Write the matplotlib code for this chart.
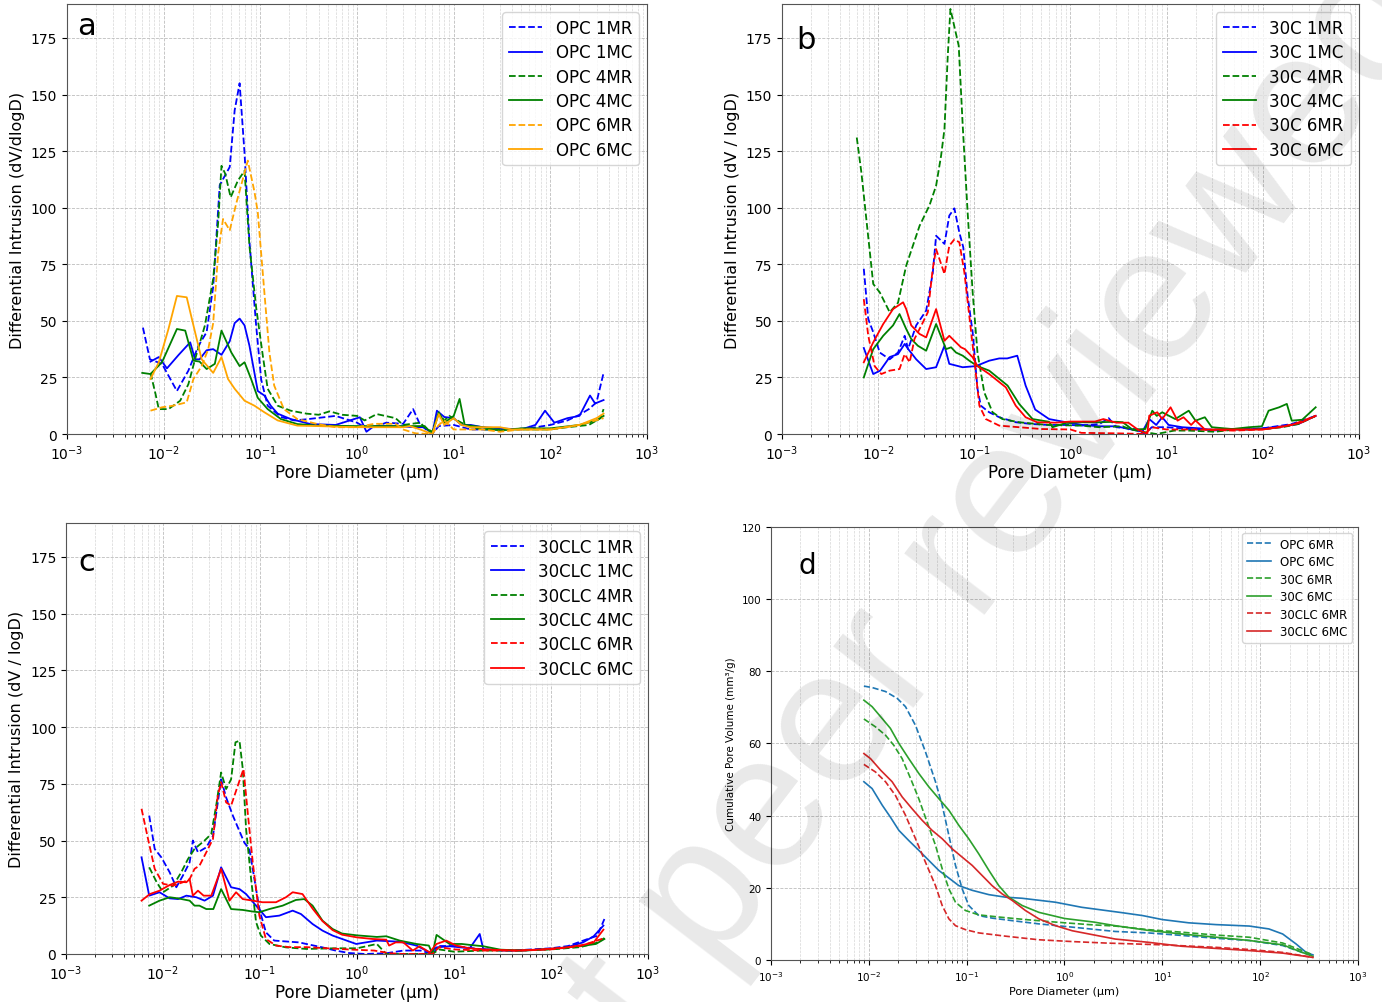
import matplotlib
matplotlib.use("Agg")
import matplotlib.pyplot as plt

# ---------------- panel a : OPC mixes (differential intrusion) ----------------
opc_1mr_d = [0.0061, 0.0072, 0.0096, 0.0137, 0.018, 0.0229, 0.0278, 0.0325, 0.038, 0.0482, 0.0542, 0.061, 0.0686,
             0.0771, 0.0904, 0.102, 0.119, 0.163, 0.223, 0.3, 0.6, 1.0, 1.2, 1.5, 2.0, 3.0, 3.8, 4.5, 6.0, 7.0, 10,
             15, 30, 60, 100, 150, 200, 250, 300, 355]
opc_1mr_v = [47, 33, 31, 19, 28, 39, 45, 65, 110, 118, 143, 155, 124, 85, 48, 24, 12.5, 7.5, 6, 6.5, 8, 5, 3, 3, 5,
             4.5, 11, 4, 0, 3.5, 4, 2, 2, 2.5, 4, 6, 8.5, 11, 14, 27]

opc_1mc_d = [0.0073, 0.0089, 0.0108, 0.0143, 0.0188, 0.0211, 0.0235, 0.0278, 0.0325, 0.0396, 0.0482, 0.0542, 0.061,
             0.0686, 0.0771, 0.094, 0.11, 0.128, 0.151, 0.206, 0.33, 0.6, 1.07, 1.25, 1.5, 2.5, 4.0, 5.0, 6.0, 6.7,
             8.0, 10, 12, 15, 20, 30, 50, 70, 88, 110, 150, 200, 257, 290, 355]
opc_1mc_v = [32, 34, 29, 35, 40.5, 33, 33, 37, 37.5, 35, 41, 49, 51, 48, 39, 19, 17, 12.5, 9, 6.6, 4.4, 4, 7.4, 1,
             3.5, 3.5, 3, 3, 0, 10.3, 7.5, 7, 4, 4, 3, 2.5, 2, 4, 10.3, 5, 7, 8, 17, 13.5, 15]

opc_4mr_d = [0.0073, 0.0082, 0.0089, 0.0112, 0.0148, 0.018, 0.0211, 0.0267, 0.0325, 0.0366, 0.0396, 0.0433, 0.0493,
             0.0586, 0.0686, 0.0771, 0.0904, 0.106, 0.119, 0.151, 0.206, 0.3, 0.4, 0.52, 0.7, 1.0, 1.2, 1.6, 2.5,
             3.0, 4.5, 5.0, 6.0, 7.0, 8.0, 9.0, 12, 15, 20, 40, 100, 150, 250, 330, 355]
opc_4mr_v = [27, 18, 11, 11, 14.7, 22, 33, 48, 68.5, 93.5, 118.5, 115, 104.6, 112, 116.3, 83, 56, 34.6, 20, 12.5,
             10.3, 9, 8.5, 10, 8.5, 8, 6, 8.8, 7, 4, 5, 3, 1, 9, 6, 8, 5, 3, 2, 2, 2, 3, 4, 7, 11]

opc_4mc_d = [0.006, 0.0073, 0.0096, 0.0137, 0.0167, 0.0203, 0.0235, 0.0278, 0.0338, 0.0396, 0.0501, 0.061, 0.0686,
             0.0802, 0.094, 0.119, 0.163, 0.241, 0.39, 1.0, 3.0, 5.0, 6.0, 7.0, 8.0, 10, 11.5, 13, 20, 30, 50, 100,
             200, 300, 355]
opc_4mc_v = [27, 26.5, 31.7, 46.4, 45.7, 32.4, 32, 28.7, 31, 45.7, 36, 30, 31.7, 24.3, 16, 11, 6.6, 4.4, 3.7, 3.5,
             3.5, 3.5, 0, 9.6, 5, 8, 15.5, 4, 3, 1.5, 2.5, 2.5, 4, 6, 8]

opc_6mr_d = [0.0073, 0.0096, 0.0125, 0.0173, 0.0203, 0.0247, 0.0289, 0.0325, 0.0366, 0.0411, 0.0482, 0.0564, 0.0659,
             0.0741, 0.0869, 0.094, 0.11, 0.124, 0.139, 0.175, 0.241, 0.39, 0.6, 1.0, 1.5, 2.5, 3.0, 4.0, 6.0, 7.0,
             8.0, 10, 20, 30, 50, 100, 200, 355]
opc_6mr_v = [10.3, 11.8, 12.5, 14, 24.3, 30, 37.5, 49, 80, 95, 90, 102, 112.7, 120.8, 107, 98, 62.6, 36, 21.4, 11,
             6.6, 4.4, 3, 3, 4.5, 4.5, 2, 0.3, 0, 4, 6, 2, 2, 1, 2, 2, 4, 7]

opc_6mc_d = [0.0073, 0.0089, 0.0112, 0.0137, 0.0173, 0.0203, 0.0247, 0.0325, 0.0396, 0.0463, 0.0542, 0.0686, 0.0869,
             0.11, 0.151, 0.241, 0.39, 1.0, 3.0, 3.5, 4.5, 6.0, 7.0, 8.0, 10, 12, 15, 30, 40, 100, 200, 300, 355]
opc_6mc_v = [24.3, 31.7, 46.4, 61, 60.4, 48, 33, 27, 34, 24.3, 20, 14.7, 12.5, 9.6, 6, 3.7, 3.5, 3, 3, 3.5, 2, 0,
             8.8, 4, 7, 4, 3, 3, 2, 2, 4, 7, 9]

# ---------------- panel b : 30C mixes ----------------
c30_1mr_d = [0.0071, 0.0079, 0.0089, 0.0104, 0.0132, 0.0161, 0.0189, 0.0205, 0.0249, 0.0316, 0.037, 0.0401, 0.049,
             0.055, 0.0621, 0.07, 0.0769, 0.0853, 0.0962, 0.108, 0.117, 0.143, 0.182, 0.27, 0.4, 0.6, 1.0, 1.3, 2.0,
             2.5, 3.0, 5.0, 6.0, 7.0, 10, 20, 50, 100, 200, 355]
c30_1mr_v = [73, 50.8, 45, 36, 33, 36, 43.4, 37.5, 48, 54.5, 71, 87.6, 84, 96.5, 99.7, 89, 82.5, 61, 45, 20, 12.5,
             9.6, 7.4, 5.2, 4.4, 4, 4, 3.7, 4.4, 7, 3, 2, 0, 3, 3, 2, 2, 2.5, 4.4, 8]

c30_1mc_d = [0.0071, 0.0089, 0.0105, 0.0132, 0.0161, 0.0189, 0.0205, 0.0249, 0.0316, 0.0401, 0.049, 0.055, 0.0757,
             0.104, 0.143, 0.182, 0.22, 0.28, 0.342, 0.43, 0.6, 0.9, 1.33, 2.0, 3.0, 4.1, 5.6, 6.6, 7.8, 9.0, 10.5,
             14.5, 22, 30, 48, 70, 100, 160, 234, 355]
c30_1mc_v = [38, 26.5, 28, 34, 35.3, 39.8, 37.6, 33, 28.7, 29.5, 39, 31, 29.5, 30, 32.4, 33.4, 33.4, 34.6, 21.4,
             10.8, 6.6, 5.2, 4, 3.4, 3.4, 2.2, 1, 6.6, 4, 7.4, 4, 3, 2.5, 1.5, 2.2, 2, 2.5, 3.4, 4.4, 8]

c30_4mr_d = [0.006, 0.0067, 0.0075, 0.0089, 0.0104, 0.0132, 0.0161, 0.0196, 0.027, 0.0342, 0.0401, 0.0452, 0.049,
             0.053, 0.0565, 0.0621, 0.0689, 0.0759, 0.0853, 0.0962, 0.108, 0.127, 0.155, 0.196, 0.292, 0.45, 0.6,
             1.3, 2.0, 3.5, 4.1, 5.6, 7.8, 12, 17, 32, 52, 72, 107, 160, 234, 355]
c30_4mr_v = [131, 115.6, 96, 66.3, 62.6, 53.8, 58, 74.4, 92, 101, 109.7, 123, 134.8, 167, 187.8, 180, 171.6, 136,
             98, 62.6, 36, 18.4, 9.6, 6.6, 5.2, 4.4, 4, 3.7, 3, 3.4, 2.2, 1, 0, 1.5, 1.5, 1, 2, 2, 2.2, 3, 4.4, 8]

c30_4mc_d = [0.0071, 0.0089, 0.0113, 0.0143, 0.0167, 0.0196, 0.0221, 0.0259, 0.0316, 0.0401, 0.0509, 0.0574, 0.0646,
             0.0759, 0.0887, 0.108, 0.143, 0.222, 0.293, 0.404, 0.6, 0.65, 0.9, 1.3, 2.0, 3.0, 3.5, 4.4, 6.0, 7.1,
             7.9, 9.0, 12.3, 17, 20, 25, 29.5, 48, 72, 98, 115, 148, 178, 200, 257, 355]
c30_4mc_v = [25, 37.5, 43.4, 48, 53, 46.4, 42, 39, 36.8, 48.6, 37.5, 38.3, 36, 34.6, 32.4, 30, 28, 21.4, 13.3, 6.6,
             5.4, 3, 4.9, 5.2, 5.2, 5.4, 5.2, 2, 2.2, 10.3, 8, 9.6, 6.6, 10.3, 5.9, 7.4, 3, 2.2, 3, 3.4, 10.3, 11.8,
             13.3, 5.9, 6.3, 11.8]

c30_6mr_d = [0.0071, 0.0079, 0.0092, 0.0108, 0.0132, 0.0167, 0.0189, 0.0213, 0.0239, 0.0292, 0.0329, 0.037, 0.0401,
             0.049, 0.055, 0.0621, 0.07, 0.0789, 0.0887, 0.1, 0.113, 0.132, 0.182, 0.292, 0.5, 1.0, 1.3, 3.0, 6.0,
             7.0, 10, 20, 50, 100, 200, 355]
c30_6mr_v = [59.6, 43.4, 30, 26.5, 28, 28.7, 35.3, 31.7, 42, 49.3, 53.8, 73, 81.7, 70.7, 83.2, 86, 84.7, 71.4, 52.3,
             33, 12.5, 6.6, 3.7, 3, 2.2, 2, 0.5, 0.3, 0, 3, 2, 2, 1.5, 2, 4, 8]

c30_6mc_d = [0.0071, 0.0089, 0.0113, 0.0143, 0.0182, 0.0196, 0.0221, 0.027, 0.0316, 0.0401, 0.049, 0.055, 0.062,
             0.0728, 0.08, 0.0962, 0.108, 0.143, 0.213, 0.27, 0.342, 0.45, 0.7, 1.0, 1.8, 2.2, 3.0, 4.0, 5.0, 6.3,
             6.6, 8.0, 9.0, 11, 13, 15, 18, 20, 25, 40, 100, 150, 250, 355]
c30_6mc_v = [31.7, 40.5, 48.6, 55.2, 58.2, 55.2, 48, 44.2, 42.7, 55.2, 41.2, 43.4, 41.2, 38.3, 37.5, 33.9, 30, 26.5,
             20.6, 12.5, 7.4, 5.2, 5, 5.5, 5.5, 6.6, 5, 5, 2, 0, 8.1, 9.6, 6.6, 11.8, 5.9, 7.4, 4, 6, 2, 2, 2, 3, 5, 8]

# ---------------- panel c : 30CLC mixes ----------------
clc_1mr_d = [0.0072, 0.0082, 0.0096, 0.0117, 0.0137, 0.016, 0.0188, 0.0203, 0.0229, 0.0279, 0.0327, 0.0397, 0.0447,
             0.0524, 0.069, 0.0776, 0.0875, 0.0984, 0.115, 0.14, 0.2, 0.253, 0.3, 0.44, 0.6, 0.83, 1.2, 2.0, 3.0,
             4.5, 6.0, 7.0, 10, 20, 40, 100, 150, 250, 300, 355]
clc_1mr_v = [61, 46.3, 42.6, 36, 29.4, 34.5, 40.4, 50, 44.8, 47, 52, 77, 69, 61, 49, 46.3, 33, 19.8, 9.5, 5.9, 5.4,
             5.1, 4.4, 2.9, 1.5, 0.4, 0, 0.3, 1.5, 1.5, 0, 3.5, 3.5, 2, 1.5, 2.5, 3.5, 6.9, 8, 15.4]

clc_1mc_d = [0.006, 0.0072, 0.0092, 0.0117, 0.0143, 0.0174, 0.022, 0.0268, 0.0327, 0.0397, 0.0503, 0.0614, 0.0718,
             0.091, 0.115, 0.158, 0.217, 0.264, 0.348, 0.44, 0.56, 0.98, 1.6, 2.75, 4.1, 5.6, 6.6, 9.0, 14.5, 18.4,
             20, 30, 50, 98, 145, 214, 275, 347]
clc_1mc_v = [42.6, 25.7, 27.2, 24.5, 24.2, 25.7, 25, 23.5, 25.7, 38.2, 29.4, 28.6, 26.4, 21.3, 16.2, 16.9, 19.1,
             17.6, 13.2, 10.3, 8.1, 4.4, 5.9, 5.4, 3.7, 0.7, 2.9, 3.4, 2.5, 8.8, 2.2, 1.5, 1.5, 2.2, 2.9, 5.1, 7.8,
             12.5]

clc_4mr_d = [0.0072, 0.0086, 0.01, 0.0127, 0.0154, 0.0181, 0.0211, 0.0268, 0.0314, 0.0353, 0.0397, 0.0447, 0.0503,
             0.0558, 0.0614, 0.0664, 0.0718, 0.0809, 0.091, 0.102, 0.125, 0.185, 0.3, 0.6, 1.0, 1.6, 2.0, 3.0, 6.0,
             7.0, 10, 20, 50, 100, 200, 300, 355]
clc_4mr_v = [38.2, 31.6, 27.2, 30.1, 36, 41.9, 46.3, 50, 52.9, 65.4, 80, 72.7, 77, 93.3, 94, 81.5, 55, 33, 14, 8.1,
             4.4, 2.9, 2.2, 2.5, 2.5, 4.4, 0, 0, 0, 2, 1, 1.5, 1.5, 2, 3, 5, 7]

clc_4mc_d = [0.0072, 0.0092, 0.0117, 0.0143, 0.0188, 0.0211, 0.0237, 0.0279, 0.033, 0.0397, 0.0503, 0.0664, 0.0841,
             0.0984, 0.125, 0.171, 0.234, 0.286, 0.348, 0.44, 0.56, 0.7, 1.0, 1.6, 2.0, 2.75, 4.1, 5.5, 6.0, 6.6,
             9.0, 12, 14.5, 20, 30, 50, 100, 200, 290, 355]
clc_4mc_v = [21.3, 23.5, 25, 24.5, 23.5, 21.3, 21.3, 19.8, 19.8, 28.6, 19.8, 19.4, 18.7, 18.4, 19.8, 21.3, 23.8,
             24.2, 21.3, 14.7, 11, 9, 8.2, 7.5, 7.8, 5.9, 4.4, 3.7, 0, 8.4, 4.4, 4.4, 4, 3.4, 1.9, 1.5, 2.2, 3.4,
             4.4, 6.6]

clc_6mr_d = [0.006, 0.007, 0.0082, 0.01, 0.0127, 0.016, 0.0188, 0.0211, 0.0238, 0.0279, 0.0327, 0.0367, 0.0397,
             0.0447, 0.0503, 0.059, 0.0675, 0.0746, 0.0841, 0.0984, 0.115, 0.146, 0.2, 0.3, 0.5, 0.8, 1.5, 2.2, 3.0,
             6.0, 7.0, 10, 20, 50, 100, 200, 355]
clc_6mr_v = [64, 50.7, 37.5, 30.9, 30.1, 31.6, 33, 37.5, 39, 44.8, 50.7, 69.8, 75.7, 66.8, 65.4, 74.2, 81.5, 62.4,
             40.4, 16.9, 6.6, 3.7, 3, 3, 2.5, 2, 1.5, 0.3, 0, 0, 3, 2, 1.5, 1.5, 2, 3.5, 7]

clc_6mc_d = [0.006, 0.0073, 0.0092, 0.0117, 0.0143, 0.0174, 0.0188, 0.0203, 0.0229, 0.0262, 0.0314, 0.0397, 0.0484,
             0.0566, 0.0664, 0.0841, 0.106, 0.146, 0.185, 0.217, 0.274, 0.348, 0.44, 0.56, 0.7, 1.0, 1.45, 2.0, 2.14,
             2.5, 3.0, 3.76, 4.4, 5.6, 6.6, 8.3, 10.5, 14.5, 20, 44, 80, 145, 214, 275, 347]
clc_6mc_v = [23.5, 26.4, 27.9, 30.4, 31.9, 31.6, 33, 25.7, 27.9, 25.7, 25.7, 37.5, 23.5, 27.2, 24.2, 23.5, 22.8,
             22.8, 25, 27.2, 26.4, 20, 14.5, 10.5, 8.5, 7.3, 6.6, 6.3, 3.7, 5.1, 5.1, 1.5, 3.4, 0.7, 4.4, 5.9, 3.7,
             2.5, 2, 1.5, 2, 2.9, 4, 5.1, 10.7]

# ---------------- panel d : cumulative pore volume ----------------
cum_opc_mr_d = [0.0089, 0.0108, 0.0148, 0.0195, 0.0237, 0.03, 0.0379, 0.048, 0.0562, 0.0658, 0.0769, 0.09, 0.105,
                0.133, 0.182, 0.292, 0.547, 1.2, 3.3, 7.2, 15.8, 35.5, 77.6, 170, 269, 347]
cum_opc_mr_v = [75.9, 75.5, 74.4, 72.5, 70.2, 65, 57.7, 49.4, 42.9, 34.5, 26.2, 19.7, 15.1, 12.3, 11.6, 10.9, 10,
                9.1, 7.9, 7.5, 6.8, 6, 5.4, 4, 2.1, 1.2]

cum_opc_mc_d = [0.0089, 0.0108, 0.0137, 0.0166, 0.0203, 0.0256, 0.0324, 0.041, 0.052, 0.0658, 0.0832, 0.114, 0.169,
                0.25, 0.369, 0.81, 1.5, 3.9, 6.3, 10, 18.6, 35.5, 77.6, 123, 170, 234, 295, 347]
cum_opc_mc_v = [49.4, 47.5, 42.9, 39.6, 35.9, 33.1, 30.4, 27.6, 24.8, 22.7, 20.6, 19.3, 18.1, 17.4, 17.1, 16, 14.6,
                13.1, 12.3, 11.2, 10.3, 9.8, 9.4, 8.6, 7.2, 4.4, 2.1, 1.4]

cum_30c_mr_d = [0.0089, 0.0117, 0.0148, 0.018, 0.0219, 0.0267, 0.0324, 0.0394, 0.048, 0.0562, 0.0658, 0.0769,
                0.0973, 0.133, 0.213, 0.398, 0.81, 1.77, 3.3, 7.2, 15.8, 35.5, 77.6, 170, 269, 347]
cum_30c_mr_v = [66.8, 64.6, 62.3, 59.5, 55.8, 50.3, 44.7, 38.2, 31.8, 25.3, 19.7, 16, 13.7, 12.5, 11.9, 11.2, 10.5,
                9.8, 9.4, 8.4, 7.7, 6.9, 6.3, 4.7, 2.6, 1.4]

cum_30c_mc_d = [0.0089, 0.0108, 0.0137, 0.0166, 0.0203, 0.0256, 0.0324, 0.041, 0.052, 0.0658, 0.0832, 0.105, 0.133,
                0.169, 0.213, 0.27, 0.369, 0.547, 1.0, 2.0, 3.3, 7.2, 15.8, 35.5, 77.6, 170, 269, 347]
cum_30c_mc_v = [72, 70.2, 66.9, 64.2, 60, 55.8, 51.7, 48, 44.7, 41.5, 37.3, 33.6, 29.4, 24.8, 20.6, 17.4, 15.1,
                13.2, 11.5, 10.5, 9.5, 8.2, 7.2, 6.3, 5.4, 4.2, 2.1, 1]

cum_clc_mr_d = [0.0089, 0.0117, 0.0148, 0.0187, 0.0237, 0.03, 0.0379, 0.048, 0.0562, 0.0658, 0.0769, 0.0973, 0.133,
                0.249, 0.547, 1.2, 2.6, 10, 35.5, 77.6, 170, 347]
cum_clc_mr_v = [54.2, 52.1, 49.4, 45.6, 40.1, 33.6, 27.1, 20.6, 15.1, 11.4, 9.5, 8.4, 7.5, 6.6, 5.6, 5.1, 4.7, 4.2,
                3.5, 2.9, 2.1, 0.7]

cum_clc_mc_d = [0.0089, 0.0104, 0.0132, 0.0173, 0.0219, 0.0277, 0.0351, 0.0444, 0.0562, 0.0711, 0.09, 0.114, 0.144,
                0.182, 0.231, 0.292, 0.399, 0.547, 0.81, 1.2, 3.3, 7.2, 15.8, 35.5, 77.6, 170, 347]
cum_clc_mc_v = [57.2, 55.8, 52.6, 49.4, 45.2, 41.9, 38.7, 35.9, 33.6, 30.8, 28.5, 26.2, 23.4, 20.6, 18.3, 16.5,
                13.7, 11.4, 9.5, 8.1, 5.8, 4.9, 3.8, 3.2, 2.6, 1.9, 0.7]


def style_axes(ax, ylim, yticks, tick_size, letter, letter_xy, letter_size):
    # log x axis from 1e-3 to 1e3 with dashed major + minor grid
    ax.set_xscale('log')
    ax.set_xlim(1e-3, 1e3)
    ax.set_ylim(*ylim)
    ax.set_yticks(yticks)
    ax.grid(True, which='major', ls='--', lw=0.6, color='#bdbdbd')
    ax.grid(True, which='minor', ls='--', lw=0.5, color='#d6d6d6')
    ax.set_axisbelow(True)
    ax.tick_params(labelsize=tick_size)
    for s in ax.spines.values():
        s.set_color('#555555')
    ax.text(letter_xy[0], letter_xy[1], letter, transform=ax.transAxes,
            fontsize=letter_size, ha='center', va='center')


fig = plt.figure(figsize=(13.82, 10.03), dpi=100)
ax_a = fig.add_axes([0.0485, 0.5663, 0.4197, 0.4287])
ax_b = fig.add_axes([0.5658, 0.5663, 0.4175, 0.4287])
ax_c = fig.add_axes([0.0478, 0.0479, 0.4211, 0.4297])
ax_d = fig.add_axes([0.5579, 0.0419, 0.4247, 0.4317])

lw = 1.3

# panel a
ax_a.plot(opc_1mr_d, opc_1mr_v, '--', color='blue', lw=lw, label='OPC 1MR')
ax_a.plot(opc_1mc_d, opc_1mc_v, '-', color='blue', lw=lw, label='OPC 1MC')
ax_a.plot(opc_4mr_d, opc_4mr_v, '--', color='green', lw=lw, label='OPC 4MR')
ax_a.plot(opc_4mc_d, opc_4mc_v, '-', color='green', lw=lw, label='OPC 4MC')
ax_a.plot(opc_6mr_d, opc_6mr_v, '--', color='orange', lw=lw, label='OPC 6MR')
ax_a.plot(opc_6mc_d, opc_6mc_v, '-', color='orange', lw=lw, label='OPC 6MC')
style_axes(ax_a, (0, 190), range(0, 176, 25), 10, 'a', (0.033, 0.949), 22)
ax_a.set_xlabel('Pore Diameter (µm)', fontsize=12, labelpad=0.5)
ax_a.set_ylabel('Differential Intrusion (dV/dlogD)', fontsize=11.5)
ax_a.legend(loc='upper right', fontsize=12, labelspacing=0.38)

# panel b
ax_b.plot(c30_1mr_d, c30_1mr_v, '--', color='blue', lw=lw, label='30C 1MR')
ax_b.plot(c30_1mc_d, c30_1mc_v, '-', color='blue', lw=lw, label='30C 1MC')
ax_b.plot(c30_4mr_d, c30_4mr_v, '--', color='green', lw=lw, label='30C 4MR')
ax_b.plot(c30_4mc_d, c30_4mc_v, '-', color='green', lw=lw, label='30C 4MC')
ax_b.plot(c30_6mr_d, c30_6mr_v, '--', color='red', lw=lw, label='30C 6MR')
ax_b.plot(c30_6mc_d, c30_6mc_v, '-', color='red', lw=lw, label='30C 6MC')
style_axes(ax_b, (0, 190), range(0, 176, 25), 10, 'b', (0.042, 0.918), 22)
ax_b.set_xlabel('Pore Diameter (µm)', fontsize=12, labelpad=0.5)
ax_b.set_ylabel('Differential Intrusion (dV / logD)', fontsize=11.5)
ax_b.legend(loc='upper right', fontsize=12, labelspacing=0.38)

# panel c
ax_c.plot(clc_1mr_d, clc_1mr_v, '--', color='blue', lw=lw, label='30CLC 1MR')
ax_c.plot(clc_1mc_d, clc_1mc_v, '-', color='blue', lw=lw, label='30CLC 1MC')
ax_c.plot(clc_4mr_d, clc_4mr_v, '--', color='green', lw=lw, label='30CLC 4MR')
ax_c.plot(clc_4mc_d, clc_4mc_v, '-', color='green', lw=lw, label='30CLC 4MC')
ax_c.plot(clc_6mr_d, clc_6mr_v, '--', color='red', lw=lw, label='30CLC 6MR')
ax_c.plot(clc_6mc_d, clc_6mc_v, '-', color='red', lw=lw, label='30CLC 6MC')
style_axes(ax_c, (0, 190), range(0, 176, 25), 10, 'c', (0.036, 0.91), 22)
ax_c.set_xlabel('Pore Diameter (µm)', fontsize=12, labelpad=0.5)
ax_c.set_ylabel('Differential Intrusion (dV / logD)', fontsize=11.5)
ax_c.legend(loc='upper right', fontsize=12, labelspacing=0.38)

# panel d (smaller fonts, tab colours)
ax_d.plot(cum_opc_mr_d, cum_opc_mr_v, '--', color='tab:blue', lw=1.2, label='OPC 6MR')
ax_d.plot(cum_opc_mc_d, cum_opc_mc_v, '-', color='tab:blue', lw=1.2, label='OPC 6MC')
ax_d.plot(cum_30c_mr_d, cum_30c_mr_v, '--', color='tab:green', lw=1.2, label='30C 6MR')
ax_d.plot(cum_30c_mc_d, cum_30c_mc_v, '-', color='tab:green', lw=1.2, label='30C 6MC')
ax_d.plot(cum_clc_mr_d, cum_clc_mr_v, '--', color='tab:red', lw=1.2, label='30CLC 6MR')
ax_d.plot(cum_clc_mc_d, cum_clc_mc_v, '-', color='tab:red', lw=1.2, label='30CLC 6MC')
style_axes(ax_d, (0, 120), range(0, 121, 20), 7.5, 'd', (0.061, 0.912), 20)
ax_d.set_xlabel('Pore Diameter (µm)', fontsize=8, labelpad=2)
ax_d.set_ylabel('Cumulative Pore Volume (mm³/g)', fontsize=7.5)
ax_d.legend(loc='upper right', fontsize=8.5, labelspacing=0.38)

# preprint watermark across the figure
fig.text(0.522, 0.125, 'Preprint not peer reviewed', rotation=52.6, rotation_mode='anchor',
         ha='center', va='center', fontsize=138, family='Liberation Sans',
         color='black', alpha=0.09, zorder=10)

fig.savefig('out.png', dpi=100)
